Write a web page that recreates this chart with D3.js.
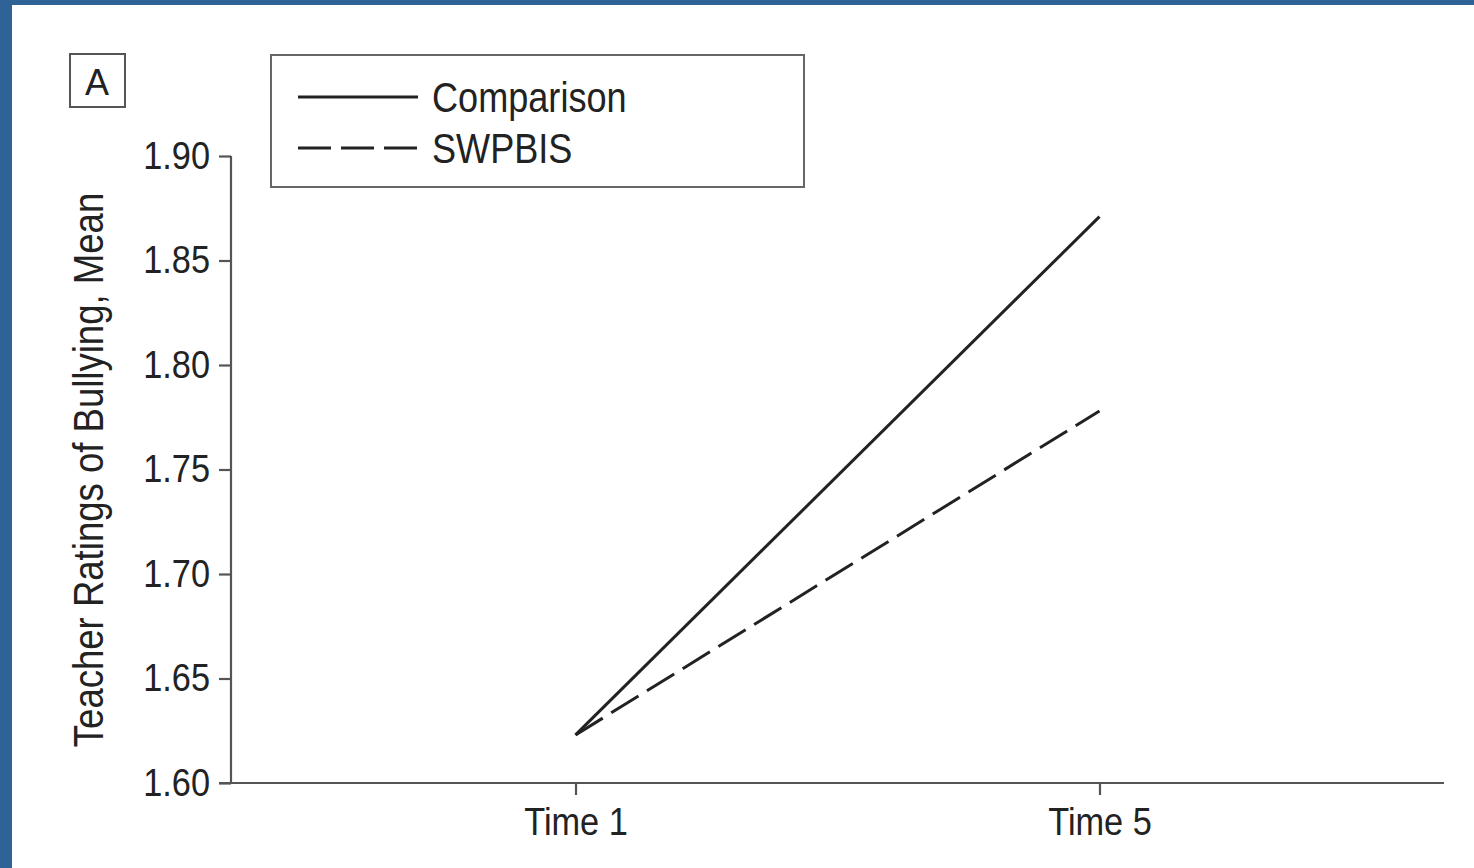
<!DOCTYPE html>
<html>
<head>
<meta charset="utf-8">
<script src="https://cdn.jsdelivr.net/npm/d3@7"></script>
<style>
  html, body { margin: 0; padding: 0; background: #2f6397; }
  svg { display: block; }
  text { font-family: "Liberation Sans", Arial, sans-serif; fill: #222; }
</style>
</head>
<body>
<svg width="1474" height="868"></svg>
<script>
// data
const times = [1, 5];
const timeLabels = ["Time 1", "Time 5"];
const comparison = [1.623, 1.871];
const swpbis = [1.623, 1.778];
const yTicks = [1.6, 1.65, 1.7, 1.75, 1.8, 1.85, 1.9];

// condensed look: squeeze the glyphs horizontally
const tickScale = 0.88;
const legendScale = 0.84;
const titleScale = 0.87;

const svg = d3.select("svg");

// white panel inside the blue frame
svg.append("rect")
  .attr("x", 12).attr("y", 5)
  .attr("width", 1462).attr("height", 863)
  .attr("fill", "#fff");

// scales
const x = d3.scaleLinear().domain([-1.63, 7.63]).range([231, 1444]);
const y = d3.scaleLinear().domain([1.6, 1.9]).range([783, 156]);

// y axis
const yAxis = svg.append("g")
  .attr("transform", "translate(231,0)")
  .call(d3.axisLeft(y).tickValues(yTicks).tickFormat(d3.format(".2f")).tickSize(12).tickPadding(9));

// x axis
const xAxis = svg.append("g")
  .attr("transform", "translate(0,783)")
  .call(d3.axisBottom(x).tickValues(times).tickFormat((d, i) => timeLabels[i]).tickSize(12).tickPadding(12));

[yAxis, xAxis].forEach(g => {
  g.select(".domain").attr("stroke", "#555").attr("stroke-width", 2.2);
  g.selectAll(".tick line").attr("stroke", "#555").attr("stroke-width", 2.2);
  g.selectAll(".tick text")
    .style("font-family", '"Liberation Sans", Arial, sans-serif')
    .style("font-size", "39px")
    .attr("fill", "#222")
    .attr("transform", `scale(${tickScale},1)`);
});
yAxis.selectAll(".tick text").attr("x", -21 / tickScale);
// x axis line starts where the y ticks start
xAxis.select(".domain").attr("d", "M219,0H1444");
yAxis.select(".domain").attr("d", "M0,156V783");

// y axis title
svg.append("text")
  .attr("transform", `translate(103,470) rotate(-90) scale(${titleScale},1)`)
  .attr("text-anchor", "middle")
  .style("font-size", "42px")
  .text("Teacher Ratings of Bullying, Mean");

// lines
const line = d3.line().x((d, i) => x(times[i])).y(d => y(d));

svg.append("path")
  .datum(comparison)
  .attr("d", line)
  .attr("fill", "none")
  .attr("stroke", "#222")
  .attr("stroke-width", 3);

svg.append("path")
  .datum(swpbis)
  .attr("d", line)
  .attr("fill", "none")
  .attr("stroke", "#222")
  .attr("stroke-width", 3)
  .attr("stroke-dasharray", "32,10");

// panel label "A"
svg.append("rect")
  .attr("x", 70).attr("y", 54).attr("width", 55).attr("height", 53)
  .attr("fill", "none").attr("stroke", "#555").attr("stroke-width", 2);
svg.append("text")
  .attr("x", 97).attr("y", 95)
  .attr("text-anchor", "middle")
  .style("font-size", "36px")
  .text("A");

// legend
const legend = svg.append("g");
legend.append("rect")
  .attr("x", 271).attr("y", 55).attr("width", 533).attr("height", 132)
  .attr("fill", "none").attr("stroke", "#666").attr("stroke-width", 2);

const legendItems = [
  { name: "Comparison", dash: null, y: 97 },
  { name: "SWPBIS", dash: "33,10", y: 148 }
];
legendItems.forEach(item => {
  legend.append("line")
    .attr("x1", 298).attr("x2", 418)
    .attr("y1", item.y).attr("y2", item.y)
    .attr("stroke", "#222").attr("stroke-width", 3)
    .attr("stroke-dasharray", item.dash);
  legend.append("text")
    .attr("transform", `translate(432,${item.y + 15}) scale(${legendScale},1)`)
    .style("font-size", "43px")
    .text(item.name);
});
</script>
</body>
</html>
